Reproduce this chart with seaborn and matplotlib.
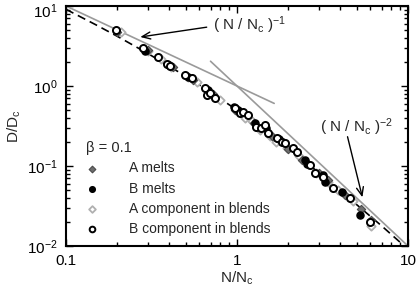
import matplotlib
matplotlib.use("Agg")
import matplotlib.pyplot as plt
import matplotlib.transforms as mtransforms
import seaborn as sns
import numpy as np
from matplotlib.ticker import FixedLocator, FixedFormatter, LogLocator, NullFormatter

sns.set_style("ticks")
plt.rcParams['font.family'] = ['Liberation Sans', 'DejaVu Sans']
plt.rcParams['mathtext.default'] = 'regular'

# ---- data ----
A_comp_x = [0.21, 0.30, 0.36, 0.41, 0.52, 0.58, 0.72, 0.80, 1.01, 1.12, 1.22, 1.36, 1.55,
            1.68, 1.95, 2.30, 2.60, 2.90, 3.40, 3.90, 4.80, 6.10]
A_comp_y = [4.7, 2.7, 2.15, 1.75, 1.30, 1.12, 0.74, 0.66, 0.48, 0.40, 0.36, 0.28, 0.24,
            0.20, 0.17, 0.135, 0.105, 0.082, 0.064, 0.050, 0.036, 0.018]

A_melt_x = [0.20, 0.30, 0.42, 0.55, 0.72, 0.98, 1.25, 1.60, 2.0, 2.4, 3.0, 3.4, 4.3, 5.3, 6.1]
A_melt_y = [4.8, 2.8, 1.75, 1.2, 0.80, 0.50, 0.34, 0.24, 0.165, 0.12, 0.082, 0.066, 0.044,
            0.029, 0.021]

B_melt_x = [0.29, 0.40, 0.52, 0.68, 0.96, 1.02, 1.28, 1.48, 1.75, 2.50, 2.55, 3.20, 3.27,
            4.10, 5.24]
B_melt_y = [2.75, 1.85, 1.30, 0.88, 0.55, 0.50, 0.34, 0.30, 0.22, 0.119, 0.106, 0.0772,
            0.0637, 0.0477, 0.0244]

B_comp_x = [0.196, 0.281, 0.345, 0.388, 0.406, 0.497, 0.543, 0.650, 0.665, 0.695, 0.743,
            0.973, 1.04, 1.08, 1.16, 1.30, 1.39, 1.46, 1.52, 1.71, 1.83, 1.91, 2.13, 2.23,
            2.67, 2.86, 3.18, 3.66, 4.58, 5.99]
B_comp_y = [5.01, 3.01, 2.32, 1.87, 1.79, 1.37, 1.25, 0.936, 0.772, 0.818, 0.700,
            0.526, 0.456, 0.477, 0.434, 0.310, 0.296, 0.325, 0.256, 0.222, 0.201, 0.192,
            0.166, 0.151, 0.103, 0.081, 0.0735, 0.0527, 0.0395, 0.0201]

# theoretical crossover (dashed)
dash_x = [0.1, 0.15, 0.2, 0.3, 0.5, 0.7, 1.0, 1.5, 2.0, 3.0, 5.0, 7.0, 10.0]
dash_y = [9.09, 5.80, 4.17, 2.56, 1.33, 0.84, 0.50, 0.267, 0.167, 0.083, 0.033, 0.0179, 0.0091]

# power-law guide lines
p1_x = [0.1, 1.65]
p1_y = [10.0, 0.606]
p2_x = [0.70, 10.0]
p2_y = [2.04, 0.01]

x_ticks = [0.1, 1, 10]
x_ticklabels = ["0.1", "1", "10"]
y_ticks = [0.01, 0.1, 1, 10]
y_ticklabels = ["10$^{-2}$", "10$^{-1}$", "10$^{0}$", "10$^{1}$"]
legend_title = "β = 0.1"
labels = ["A melts", "B melts", "A component in blends", "B component in blends"]

# ---- figure ----
fig = plt.figure(figsize=(4.16, 2.91), dpi=100)
ax = fig.add_axes([66/416, 1-246/291, (408-66)/416, (246-6)/291])
ax.set_xscale('log')
ax.set_yscale('log')

grey = '#9a9a9a'
sns.lineplot(x=p1_x, y=p1_y, ax=ax, color=grey, lw=1.2, zorder=2)
sns.lineplot(x=p2_x, y=p2_y, ax=ax, color=grey, lw=1.2, zorder=2)
sns.lineplot(x=dash_x, y=dash_y, ax=ax, color='black', lw=1.2, dashes=False, zorder=2,
             linestyle=(0, (5, 3)))

ms = 26
h_acomp = ax.scatter(A_comp_x, A_comp_y, marker='D', s=18, facecolor='white',
                     edgecolor='#b0b0b0', linewidth=1.3, zorder=3)
h_amelt = ax.scatter(A_melt_x, A_melt_y, marker='D', s=18, facecolor='#6e6e6e',
                     edgecolor='#4a4a4a', linewidth=0.8, zorder=3)
h_bmelt = ax.scatter(B_melt_x, B_melt_y, marker='o', s=ms, facecolor='black',
                     edgecolor='black', linewidth=1, zorder=4)
h_bcomp = ax.scatter(B_comp_x, B_comp_y, marker='o', s=ms, facecolor='white',
                     edgecolor='black', linewidth=1.4, zorder=5)

ax.set_xlim(0.1, 10)
ax.set_ylim(0.01, 10)

ax.xaxis.set_major_locator(FixedLocator(x_ticks))
ax.xaxis.set_major_formatter(FixedFormatter(x_ticklabels))
ax.xaxis.set_minor_locator(LogLocator(base=10, subs=np.arange(2, 10)))
ax.xaxis.set_minor_formatter(NullFormatter())
ax.yaxis.set_major_locator(FixedLocator(y_ticks))
ax.yaxis.set_major_formatter(FixedFormatter(y_ticklabels))
ax.yaxis.set_minor_locator(LogLocator(base=10, subs=np.arange(2, 10)))
ax.yaxis.set_minor_formatter(NullFormatter())

ax.tick_params(which='both', direction='in', top=True, right=True, labelsize=11,
               width=1, color='black', labelcolor='black')
ax.tick_params(which='major', length=5, pad=6)
ax.tick_params(which='minor', length=3)
for s in ax.spines.values():
    s.set_linewidth(1.5)
    s.set_color('black')

ax.set_xlabel("N/N$_c$", fontsize=11, labelpad=1)
ax.set_ylabel("D/D$_c$", fontsize=11, labelpad=3)

# annotations
ax.text(0.724, 5.79, "( N / N$_c$ )$^{-1}$", fontsize=11, ha='left', va='center')
ax.annotate("", xy=(0.262, 4.05), xytext=(0.69, 5.5),
            arrowprops=dict(arrowstyle='->,head_length=0.6,head_width=0.25', color='black', lw=1))
ax.text(3.06, 0.307, "( N / N$_c$ )$^{-2}$", fontsize=11, ha='left', va='center')
ax.annotate("", xy=(5.46, 0.0376), xytext=(4.39, 0.251),
            arrowprops=dict(arrowstyle='->,head_length=0.6,head_width=0.25', color='black', lw=1))

leg = ax.legend([h_amelt, h_bmelt, h_acomp, h_bcomp], labels, title=legend_title,
                loc='upper left', bbox_to_anchor=(86/416, 1-141/291),
                bbox_transform=fig.transFigure, frameon=False, fontsize=10,
                title_fontsize=10.5, handlelength=0.8, handletextpad=2.3,
                labelspacing=0.45, borderpad=0, borderaxespad=0, markerscale=0.8)
leg._legend_box.align = 'left'

# nudge the top y tick label down so it is not clipped (as in the reference)
fig.canvas.draw()
top_lbl = ax.yaxis.get_major_ticks()[-1].label1
top_lbl.set_transform(top_lbl.get_transform() +
                      mtransforms.ScaledTranslation(0, -4/100, fig.dpi_scale_trans))

fig.savefig("out.png", dpi=100)
